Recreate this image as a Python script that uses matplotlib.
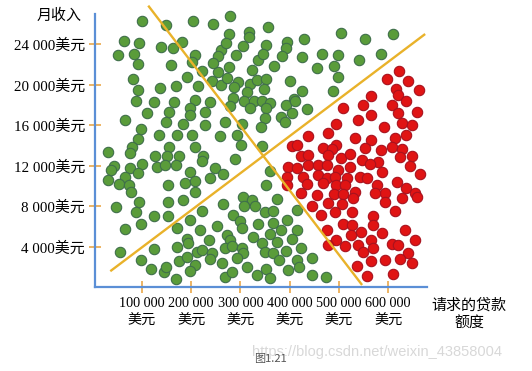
import matplotlib
matplotlib.use('Agg')
import matplotlib.pyplot as plt

plt.rcParams['font.family'] = ['Liberation Serif', 'Noto Sans CJK SC']

# Values in thousands of US dollars: x = requested loan amount, y = monthly income
green_x = [100, 149, 204, 245, 279, 276, 317, 63, 94, 51, 84, 138, 163, 182, 93, 160, 208, 261, 255, 271,
           306, 292, 318, 83, 93, 136, 170, 192, 201, 222, 214, 243, 255, 276, 261, 296, 288, 323, 320, 333,
           245, 272, 336, 313,
           356, 353, 395, 393, 429, 505, 553, 609, 346, 384, 368, 425, 466, 499, 541, 586, 455, 489, 499,
           353, 348, 401, 426, 487, 409,
           88, 124, 165, 207, 238, 286, 307, 328, 110, 155, 197, 197, 228, 279, 320, 66, 149, 184, 228, 269,
           303, 99, 134, 171, 201, 258, 293, 93, 81, 76, 31, 155, 207, 301, 126, 151, 176, 225, 222, 289,
           100, 75, 44, 38, 131, 147, 170, 197, 249, 264, 93, 66, 32, 53, 73, 188, 208, 238, 153, 208, 78,
           343, 360, 353, 393, 411, 404, 435, 350, 382, 391, 342, 343, 360, 351,
           47, 95, 88, 124, 154, 184, 153, 222, 265, 306, 323, 308, 330, 66, 98, 171, 197, 218, 253, 286,
           299, 303, 326, 272, 279, 237, 191, 171, 194, 212, 222, 242, 269, 283, 303, 305, 56, 125, 98, 176,
           191, 208, 238, 262, 293, 313, 333, 119, 144, 149, 198, 170, 269, 283,
           374, 350, 367, 394, 414, 336, 367, 382, 360, 414, 404, 343, 374, 350, 367, 392, 424, 378, 414,
           445, 397, 418, 351, 360, 445, 473]
green_y = [26.3, 25.9, 26.3, 26.0, 26.8, 25.0, 25.2, 24.3, 24.1, 22.9, 23.0, 23.7, 23.6, 24.2, 22.0, 21.9, 22.9, 23.4, 22.8, 24.1,
           23.8, 22.9, 24.7, 20.6, 19.5, 19.7, 19.9, 20.8, 22.2, 21.4, 19.9, 20.4, 21.3, 21.7, 20.0, 20.3, 19.8, 21.5, 20.1, 20.5,
           22.1, 20.7, 22.4, 19.3,
           25.7, 23.9, 24.2, 23.6, 24.5, 25.1, 24.5, 25.0, 23.0, 22.8, 21.8, 22.7, 23.0, 22.9, 22.4, 23.0, 21.6, 21.8, 20.8,
           20.6, 19.6, 20.4, 19.4, 19.4, 18.6,
           18.4, 18.3, 18.3, 18.5, 18.3, 18.7, 18.4, 18.4, 17.2, 17.3, 17.7, 17.0, 17.3, 17.9, 17.7, 16.5, 16.3, 16.1, 16.0, 16.3,
           16.1, 15.6, 15.0, 15.0, 15.0, 14.9, 15.0, 14.6, 13.9, 13.3, 13.4, 13.9, 13.9, 14.1, 13.0, 13.0, 13.0, 13.0, 12.5, 12.7,
           12.2, 11.8, 12.0, 11.6, 11.9, 12.1, 12.1, 11.4, 11.8, 11.2, 11.3, 10.9, 10.6, 10.2, 10.1, 10.3, 10.5, 10.8, 10.1, 9.4, 9.4,
           18.4, 18.2, 17.7, 18.0, 18.4, 17.2, 17.6, 16.7, 16.8, 16.3, 15.8, 14.0, 11.5, 10.1,
           7.9, 8.4, 7.4, 7.0, 8.4, 8.6, 7.0, 7.5, 8.2, 8.9, 8.6, 8.0, 8.0, 5.8, 6.3, 5.9, 6.7, 5.7, 6.1, 7.1,
           6.6, 5.9, 5.0, 5.2, 4.7, 4.7, 4.8, 4.0, 4.4, 3.5, 3.7, 3.4, 3.9, 4.1, 3.9, 3.4, 3.5, 3.8, 2.7, 2.6,
           3.0, 2.2, 2.8, 2.4, 2.9, 2.0, 1.2, 1.8, 1.5, 2.0, 1.6, 0.8, 1.0, 1.5,
           8.7, 7.4, 7.5, 6.7, 7.6, 6.3, 6.4, 5.7, 5.3, 5.7, 4.8, 4.4, 4.5, 3.5, 3.4, 3.6, 3.9, 2.7, 2.7,
           2.9, 1.7, 2.0, 1.8, 0.9, 1.2, 1.0]

red_x = [622, 597, 641, 662, 616, 566, 620,
         508, 549, 566, 607, 620, 637, 658, 539, 592, 627, 648, 495, 478, 438, 533, 566, 614, 637, 404, 414,
         468, 495, 485, 553, 585, 607, 627, 424, 438, 478, 504, 522, 546, 580, 624, 648, 397, 414, 438, 458,
         475, 499, 522, 563, 587, 644, 664, 394, 428, 458, 475, 492, 516, 543, 556, 617, 394, 435, 468, 495,
         512, 577, 637, 424, 533, 593, 654,
         455, 489, 509, 529, 573, 627, 658, 445, 477, 506, 464, 492, 526, 593, 614, 570, 475, 509, 526, 570,
         587, 545, 524, 495, 478, 512, 539, 566, 570, 549, 607, 620, 634, 654, 641, 624, 648, 593, 566, 536,
         556, 610]
red_y = [21.4, 20.6, 20.4, 19.5, 19.6, 18.9, 19.0,
         17.7, 18.0, 17.0, 18.0, 17.2, 18.4, 17.3, 16.5, 15.8, 16.2, 16.0, 16.1, 15.2, 14.9, 14.7, 14.5, 14.7, 15.0, 14.0, 14.1,
         13.8, 14.1, 13.7, 13.8, 13.6, 13.9, 13.7, 13.0, 13.1, 13.1, 12.8, 13.2, 12.6, 12.4, 12.9, 13.0, 11.9, 11.8, 12.1, 12.1,
         12.1, 11.6, 11.9, 12.2, 11.4, 12.0, 11.2, 10.9, 10.9, 11.1, 10.8, 10.9, 10.8, 10.9, 10.8, 10.4, 10.1, 10.2, 10.3, 10.1,
         10.1, 10.1, 9.8, 9.3, 9.4, 9.3, 9.3,
         9.1, 9.2, 9.2, 8.8, 9.3, 8.8, 8.9, 8.0, 8.3, 8.2, 7.1, 7.4, 7.4, 8.4, 7.5, 7.0, 5.7, 6.3, 6.2, 6.2,
         5.4, 5.5, 5.2, 4.7, 4.2, 4.1, 4.2, 4.7, 3.9, 3.5, 4.3, 4.2, 5.7, 4.7, 3.4, 2.8, 2.4, 2.7, 2.6, 2.1,
         1.1, 1.3]

# Two separating lines (endpoints in data units)
line1_x = [113, 547]
line1_y = [27.8, 0.24]
line2_x = [36, 675]
line2_y = [1.6, 25.0]

x_ticks = [100, 200, 300, 400, 500, 600]
x_tick_labels = ['100 000\n美元', '200 000\n美元', '300 000\n美元',
                 '400 000\n美元', '500 000\n美元', '600 000\n美元']
y_ticks = [4, 8, 12, 16, 20, 24]
y_tick_labels = ['4 000美元', '8 000美元', '12 000美元', '16 000美元', '20 000美元', '24 000美元']

fig = plt.figure(figsize=(5.32, 3.71), dpi=100)
fig.patch.set_facecolor('white')
ax = fig.add_axes([0.1786, 0.2253, 0.6252, 0.7704])
ax.set_xlim(5, 680)
ax.set_ylim(0, 28.2)

ax.scatter(green_x, green_y, s=56, c='#5a9c3a', edgecolors='#3f6f4a', linewidths=0.8, zorder=2)
ax.scatter(red_x, red_y, s=56, c='#e01414', edgecolors='#a8121e', linewidths=0.8, zorder=2)

ax.plot(line1_x, line1_y, color='#e9b22a', lw=1.7, zorder=3, clip_on=False, solid_capstyle='butt')
ax.plot(line2_x, line2_y, color='#e9b22a', lw=1.7, zorder=3, clip_on=False, solid_capstyle='butt')

for s in ['top', 'right']:
    ax.spines[s].set_visible(False)
for s in ['left', 'bottom']:
    ax.spines[s].set_color('#5b8fd6')
    ax.spines[s].set_linewidth(1.6)
ax.spines['left'].set_bounds(0, 27.0)
ax.spines['bottom'].set_bounds(5, 679)

ax.set_xticks(x_ticks)
ax.set_xticklabels(x_tick_labels, linespacing=1.4)
ax.set_yticks(y_ticks)
ax.set_yticklabels(y_tick_labels)
ax.tick_params(axis='both', direction='inout', length=8.5, width=1.2, color='#eaa84a', pad=3)
ax.tick_params(axis='y', labelsize=10.8)
ax.tick_params(axis='x', labelsize=10.2)

fig.text(59 / 532, 1 - 16 / 371, '月收入', ha='center', va='center', fontsize=10.8)
fig.text(469 / 532, 1 - 314.5 / 371, '请求的贷款\n额度', ha='center', va='center',
         fontsize=10.8, linespacing=1.3, multialignment='center')

fig.text(252 / 532, 1 - 352 / 371, 'https://blog.csdn.net/weixin_43858004', ha='left', va='center',
         fontsize=10.5, color='#d8d8d8', family=['Liberation Sans', 'DejaVu Sans'])
fig.text(254 / 532, 1 - 359 / 371, '图1.21', ha='left', va='center', fontsize=8, color='#555555',
         family=['Noto Sans CJK SC', 'DejaVu Sans'])

fig.savefig('out.png', dpi=100, facecolor='white')
